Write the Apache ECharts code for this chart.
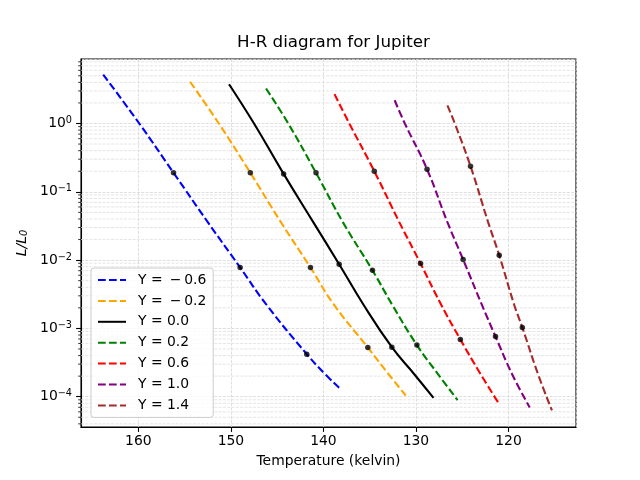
<!DOCTYPE html>
<html>
<head>
<meta charset="utf-8">
<script src="https://cdn.jsdelivr.net/npm/echarts@6/dist/echarts.min.js"></script>
<style>
html, body { margin: 0; padding: 0; background: #fff; }
#hrChart { width: 640px; height: 480px; }
</style>
</head>
<body>
<div id="hrChart"></div>
<script>
// temperature (K) and L/L0 along each curve
var seriesNames = ['Y = \u2009\u2212\u20090.6', 'Y = \u2009\u2212\u20090.2', 'Y = 0.0', 'Y = 0.2', 'Y = 0.6', 'Y = 1.0', 'Y = 1.4'];
var seriesColors = ['#0000ff', '#ffa500', '#000000', '#008000', '#ff0000', '#800080', '#a52a2a'];

var tempM06 = [163.8, 159.9, 156.2, 152.5, 149.0, 146.2, 141.8, 139.8, 138.3];
var lumM06  = [5.2, 1.0, 0.19, 0.036, 0.0078, 0.00226, 0.00042, 0.000213, 0.000135];
var tempM02 = [154.4, 151.3, 147.9, 144.6, 141.4, 138.9, 135.2, 133.2, 131.1];
var lumM02  = [4.07, 1.0, 0.19, 0.036, 0.0078, 0.00226, 0.000525, 0.000235, 0.000104];
var temp00  = [150.2, 147.5, 144.3, 141.1, 138.3, 135.7, 132.6, 130.2, 128.1];
var lum00   = [3.76, 1.0, 0.183, 0.036, 0.0087, 0.00226, 0.00053, 0.000215, 0.000096];
var temp02  = [146.2, 143.8, 140.8, 137.9, 134.7, 132.6, 129.9, 127.6, 125.5];
var lum02   = [3.25, 1.0, 0.19, 0.036, 0.0071, 0.00226, 0.00057, 0.000213, 0.000089];
var temp06  = [138.8, 137.2, 134.5, 131.8, 129.5, 127.3, 125.2, 123.0, 121.1];
var lum06   = [2.69, 1.0, 0.2, 0.036, 0.0089, 0.00226, 0.00069, 0.000213, 0.000082];
var temp10  = [132.3, 131.2, 128.8, 126.6, 124.9, 122.9, 121.4, 119.6, 117.7];
var lum10   = [2.19, 1.0, 0.214, 0.036, 0.0102, 0.00226, 0.00076, 0.000213, 0.0000695];
var temp14  = [126.6, 125.8, 124.1, 122.2, 121.0, 119.4, 118.5, 116.8, 115.3];
var lum14   = [1.84, 1.0, 0.237, 0.036, 0.0118, 0.00226, 0.00103, 0.000213, 0.000063];

// black marker points
var dotTemps = [156.2, 149.0, 141.8, 147.9, 141.4, 135.2, 144.3, 138.3, 132.6, 140.8, 134.7, 129.9,
                134.5, 129.5, 125.2, 128.8, 124.9, 121.4, 124.1, 121.0, 118.5];
var dotLums  = [0.19, 0.0078, 0.00042, 0.19, 0.0078, 0.000525, 0.183, 0.0087, 0.00053, 0.19, 0.0071, 0.00057,
                0.2, 0.0089, 0.00069, 0.214, 0.0102, 0.00076, 0.237, 0.0118, 0.00103];

var xMin = 112.7, xMax = 166.2;
var yMin = 3.6e-5, yMax = 8.8;

// minor log ticks 2..9 x 10^k
var minorTicks = [];
for (var e = -5; e <= 0; e++) {
	for (var k = 2; k <= 9; k++) {
		var v = k * Math.pow(10, e);
		if (v > yMin && v < yMax) minorTicks.push(v);
	}
}

var curveTemps = [tempM06, tempM02, temp00, temp02, temp06, temp10, temp14];
var curveLums = [lumM06, lumM02, lum00, lum02, lum06, lum10, lum14];
var dashes = [7.7, 3.3];

function pairs(xs, ys){
	return xs.map(function(x, i){ return [x, ys[i]]; });
}

function supNum(n){
	return String(n).replace('-', '\u2212');
}

var series = [];
series.push({
	type: 'custom',
	silent: true,
	z: 1,
	clip: false,
	data: minorTicks.map(function(v){ return [xMax, v]; }),
	encode: { x: 0, y: 1 },
	renderItem: function(params, api){
		var p1 = api.coord([xMax, api.value(1)]);
		var p2 = api.coord([xMin, api.value(1)]);
		return {
			type: 'group',
			children: [
				{ type: 'line', shape: { x1: p1[0], y1: p1[1], x2: p2[0], y2: p2[1] },
				  style: { stroke: '#dedede', lineWidth: 0.8, lineDash: [3, 1.3] } },
				{ type: 'line', shape: { x1: p1[0] - 2.8, y1: p1[1], x2: p1[0], y2: p1[1] },
				  style: { stroke: '#000', lineWidth: 0.8 } }
			]
		};
	}
});
for (var i = 0; i < seriesNames.length; i++) {
	series.push({
		name: seriesNames[i],
		type: 'line',
		data: pairs(curveTemps[i], curveLums[i]),
		symbol: 'none',
		smooth: 0.45,
		z: 3,
		color: seriesColors[i],
		lineStyle: {
			color: seriesColors[i],
			width: 2.1,
			type: i === 2 ? 'solid' : dashes
		}
	});
}
series.push({
	type: 'scatter',
	data: pairs(dotTemps, dotLums),
	symbol: 'circle',
	symbolSize: 5.5,
	z: 4,
	itemStyle: { color: '#000' }
});

var option = {
	animation: false,
	backgroundColor: '#fff',
	textStyle: { fontFamily: 'DejaVu Sans' },
	title: {
		text: 'H-R diagram for Jupiter',
		left: 328.5,
		top: 29,
		textAlign: 'center',
		textStyle: { fontFamily: 'DejaVu Sans', fontSize: 16.7, fontWeight: 'normal', color: '#000' }
	},
	legend: {
		data: seriesNames,
		orient: 'vertical',
		left: 91,
		top: 268,
		padding: [5, 7, 5, 6],
		itemWidth: 28,
		itemHeight: 14,
		itemGap: 6.9,
		backgroundColor: 'rgba(255,255,255,0.8)',
		borderColor: '#cccccc',
		borderWidth: 1,
		borderRadius: 3,
		itemStyle: { opacity: 0, borderWidth: 0 },
		lineStyle: { opacity: 1 },
		textStyle: { fontFamily: 'DejaVu Sans', fontSize: 13.9, color: '#000', padding: [0, 0, 0, 7] }
	},
	grid: {
		left: 81,
		right: 64,
		top: 59,
		bottom: 53,
		show: true,
		borderColor: '#000',
		borderWidth: 1.1,
		containLabel: false
	},
	xAxis: {
		type: 'value',
		inverse: true,
		min: xMin,
		max: xMax,
		name: 'Temperature (kelvin)',
		nameLocation: 'middle',
		nameGap: 27,
		nameTextStyle: { fontFamily: 'DejaVu Sans', fontSize: 13.9, color: '#000' },
		axisLine: { show: true, lineStyle: { color: '#000', width: 1.1 } },
		axisTick: { show: true, length: 4.9, lineStyle: { color: '#000', width: 1.1 } },
		axisLabel: { color: '#000', fontSize: 13.9, margin: 7, showMinLabel: false, showMaxLabel: false },
		splitLine: { show: true, lineStyle: { color: '#d7d7d7', width: 0.8, type: [3, 1.3] } }
	},
	yAxis: {
		type: 'log',
		logBase: 10,
		min: yMin,
		max: yMax,
		name: '{i|L/L}{sub|0}',
		nameLocation: 'middle',
		nameRotate: 90,
		nameGap: 50,
		nameTextStyle: {
			rich: {
				i: { fontFamily: 'DejaVu Sans', fontStyle: 'italic', fontSize: 13.9, color: '#000', lineHeight: 16, verticalAlign: 'bottom' },
				sub: { fontFamily: 'DejaVu Sans', fontStyle: 'italic', fontSize: 9.7, color: '#000', lineHeight: 10, verticalAlign: 'bottom' }
			}
		},
		axisLine: { show: true, lineStyle: { color: '#000', width: 1.1 } },
		axisTick: { show: true, length: 4.9, lineStyle: { color: '#000', width: 1.1 } },
		axisLabel: {
			margin: 9,
			showMinLabel: false,
			showMaxLabel: false,
			formatter: function(val){
				var p = Math.round(Math.log(val) / Math.LN10);
				return '{b|10}{s|' + supNum(p) + '}';
			},
			rich: {
				b: { fontFamily: 'DejaVu Sans', fontSize: 13.9, color: '#000', lineHeight: 16 },
				s: { fontFamily: 'DejaVu Sans', fontSize: 9.7, color: '#000', lineHeight: 8, verticalAlign: 'top' }
			}
		},
		splitLine: { show: true, lineStyle: { color: '#d7d7d7', width: 0.8, type: [3, 1.3] } }
	},
	series: series
};

var hrChart = echarts.init(document.getElementById('hrChart'));
hrChart.setOption(option);
</script>
</body>
</html>
